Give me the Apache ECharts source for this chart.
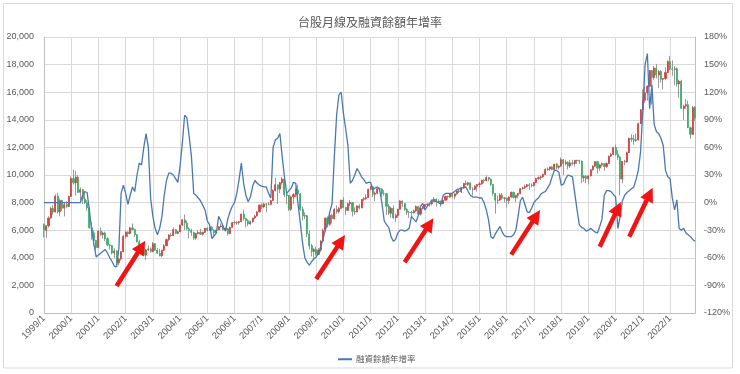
<!DOCTYPE html>
<html><head><meta charset="utf-8">
<script src="https://cdn.jsdelivr.net/npm/echarts@6/dist/echarts.min.js"></script>
<style>html,body{margin:0;padding:0;background:#fff}#c{width:740px;height:374px}</style>
</head><body><div id="c"></div>
<script>
const categories = [
'1999/1','1999/2','1999/3','1999/4','1999/5','1999/6','1999/7','1999/8','1999/9','1999/10','1999/11','1999/12',
'2000/1','2000/2','2000/3','2000/4','2000/5','2000/6','2000/7','2000/8','2000/9','2000/10','2000/11','2000/12',
'2001/1','2001/2','2001/3','2001/4','2001/5','2001/6','2001/7','2001/8','2001/9','2001/10','2001/11','2001/12',
'2002/1','2002/2','2002/3','2002/4','2002/5','2002/6','2002/7','2002/8','2002/9','2002/10','2002/11','2002/12',
'2003/1','2003/2','2003/3','2003/4','2003/5','2003/6','2003/7','2003/8','2003/9','2003/10','2003/11','2003/12',
'2004/1','2004/2','2004/3','2004/4','2004/5','2004/6','2004/7','2004/8','2004/9','2004/10','2004/11','2004/12',
'2005/1','2005/2','2005/3','2005/4','2005/5','2005/6','2005/7','2005/8','2005/9','2005/10','2005/11','2005/12',
'2006/1','2006/2','2006/3','2006/4','2006/5','2006/6','2006/7','2006/8','2006/9','2006/10','2006/11','2006/12',
'2007/1','2007/2','2007/3','2007/4','2007/5','2007/6','2007/7','2007/8','2007/9','2007/10','2007/11','2007/12',
'2008/1','2008/2','2008/3','2008/4','2008/5','2008/6','2008/7','2008/8','2008/9','2008/10','2008/11','2008/12',
'2009/1','2009/2','2009/3','2009/4','2009/5','2009/6','2009/7','2009/8','2009/9','2009/10','2009/11','2009/12',
'2010/1','2010/2','2010/3','2010/4','2010/5','2010/6','2010/7','2010/8','2010/9','2010/10','2010/11','2010/12',
'2011/1','2011/2','2011/3','2011/4','2011/5','2011/6','2011/7','2011/8','2011/9','2011/10','2011/11','2011/12',
'2012/1','2012/2','2012/3','2012/4','2012/5','2012/6','2012/7','2012/8','2012/9','2012/10','2012/11','2012/12',
'2013/1','2013/2','2013/3','2013/4','2013/5','2013/6','2013/7','2013/8','2013/9','2013/10','2013/11','2013/12',
'2014/1','2014/2','2014/3','2014/4','2014/5','2014/6','2014/7','2014/8','2014/9','2014/10','2014/11','2014/12',
'2015/1','2015/2','2015/3','2015/4','2015/5','2015/6','2015/7','2015/8','2015/9','2015/10','2015/11','2015/12',
'2016/1','2016/2','2016/3','2016/4','2016/5','2016/6','2016/7','2016/8','2016/9','2016/10','2016/11','2016/12',
'2017/1','2017/2','2017/3','2017/4','2017/5','2017/6','2017/7','2017/8','2017/9','2017/10','2017/11','2017/12',
'2018/1','2018/2','2018/3','2018/4','2018/5','2018/6','2018/7','2018/8','2018/9','2018/10','2018/11','2018/12',
'2019/1','2019/2','2019/3','2019/4','2019/5','2019/6','2019/7','2019/8','2019/9','2019/10','2019/11','2019/12',
'2020/1','2020/2','2020/3','2020/4','2020/5','2020/6','2020/7','2020/8','2020/9','2020/10','2020/11','2020/12',
'2021/1','2021/2','2021/3','2021/4','2021/5','2021/6','2021/7','2021/8','2021/9','2021/10','2021/11','2021/12',
'2022/1','2022/2','2022/3','2022/4','2022/5','2022/6','2022/7','2022/8','2022/9','2022/10','2022/11','2022/12'
];

// 台股月線 (TAIEX monthly) open / close / high / low
const openValues = [
6418,5999,6318,6881,7581,7317,8467,7326,8157,7598,7855,7721,
8448,9744,9435,9854,8744,8939,8265,7985,7616,6185,5805,5256,
4739,5936,5674,5797,5382,4935,4883,4352,4500,3636,3904,4441,
5551,5872,5759,6167,6043,5675,5153,4941,4764,4191,4579,4646,
4452,5027,4556,4321,4148,4555,4872,5318,5650,5611,6045,5771,
5890,6375,6750,6522,6117,5977,5840,5420,5765,5845,5706,5844,
6140,5994,6207,6006,5819,6012,6241,6311,6033,6118,5764,6204,
6548,6532,6561,6614,7171,6847,6704,6454,6609,6884,7021,7323,
7823,7699,7901,7884,7875,8145,8884,9288,8982,9438,9711,8586,
8506,7521,8413,8572,8920,8619,7523,7024,7046,5720,4870,4460,
4591,4248,4557,5210,5993,6890,6432,7078,6826,7509,7340,7582,
8188,7640,7436,7920,8004,7374,7329,7761,7616,8238,8287,8372,
8973,9145,8600,8683,9007,8988,8653,8644,7741,7225,7588,6904,
7072,7517,8121,7933,7501,7301,7296,7270,7397,7715,7166,7580,
7699,7850,7897,7918,8093,8254,8062,8107,7915,8173,8450,8406,
8611,8462,8639,8849,8791,9075,9393,9315,9436,8966,8974,9187,
9307,9361,9622,9586,9820,9701,9323,8665,8175,8181,8554,8320,
8338,8145,8411,8744,8377,8536,8667,9007,9068,9166,9290,9240,
9254,9448,9750,9812,9872,10041,10395,10427,10586,10384,10794,10560,
10643,11104,10815,10919,10658,10875,10837,11057,11064,11006,9802,9888,
9727,9932,10389,10641,10968,10499,10731,10823,10619,10830,11358,11490,
11997,11495,11292,9708,10992,10943,11621,12665,12592,12516,12546,13723,
14733,15410,15954,16431,17567,17068,17755,17247,17491,16935,16987,17428,
18219,17674,17652,17693,16592,16807,14826,15000,15095,13425,12950,14880
];
const closeValues = [
5999,6318,6881,7581,7317,8467,7326,8157,7598,7855,7721,8448,
9744,9435,9854,8744,8939,8265,7985,7616,6185,5805,5256,4739,
5936,5674,5797,5382,4935,4883,4352,4500,3636,3904,4441,5551,
5872,5759,6167,6043,5675,5153,4941,4764,4191,4579,4646,4452,
5027,4556,4321,4148,4555,4872,5318,5650,5611,6045,5771,5890,
6375,6750,6522,6117,5977,5840,5420,5765,5845,5706,5844,6140,
5994,6207,6006,5819,6012,6241,6311,6033,6118,5764,6204,6548,
6532,6561,6614,7171,6847,6704,6454,6609,6884,7021,7323,7823,
7699,7901,7884,7875,8145,8884,9288,8982,9438,9711,8586,8506,
7521,8413,8572,8920,8619,7523,7024,7046,5720,4870,4460,4591,
4248,4557,5210,5993,6890,6432,7078,6826,7509,7340,7582,8188,
7640,7436,7920,8004,7374,7329,7761,7616,8238,8287,8372,8973,
9145,8600,8683,9007,8988,8653,8644,7741,7225,7588,6904,7072,
7517,8121,7933,7501,7301,7296,7270,7397,7715,7166,7580,7699,
7850,7897,7918,8093,8254,8062,8107,7915,8173,8450,8406,8611,
8462,8639,8849,8791,9075,9393,9315,9436,8966,8974,9187,9307,
9361,9622,9586,9820,9701,9323,8665,8175,8181,8554,8320,8338,
8145,8411,8744,8377,8536,8667,9007,9068,9166,9290,9240,9254,
9448,9750,9812,9872,10041,10395,10427,10586,10384,10794,10560,10643,
11104,10815,10919,10658,10875,10837,11057,11064,11006,9802,9888,9727,
9932,10389,10641,10968,10499,10731,10823,10619,10830,11358,11490,11997,
11495,11292,9708,10992,10943,11621,12665,12592,12516,12546,13723,14733,
15410,15954,16431,17567,17068,17755,17247,17491,16935,16987,17428,18219,
17674,17652,17693,16592,16807,14826,15000,15095,13425,12950,14880,14138
];
const highValues = [
6480,6350,7000,7700,7800,8600,8710,8300,8200,8000,8100,8500,
9900,10393,10300,10000,9100,9000,8800,8200,7700,6600,6000,5300,
6000,6200,5900,5900,5500,5000,4900,4700,4550,4000,4500,5650,
5960,5900,6250,6484,6100,5700,5300,5000,4850,4650,4900,4750,
5140,5050,4700,4650,4600,5000,5400,5700,5800,6200,6100,5950,
6400,6800,7135,6700,6200,6100,5900,5800,6000,6100,5900,6150,
6200,6250,6300,6050,6050,6300,6480,6350,6200,6150,6250,6600,
6700,6650,6650,7200,7500,6900,6800,6700,6900,7100,7400,7850,
7950,8000,7950,8050,8200,8950,9800,9300,9500,9860,9750,8800,
8550,8500,8700,9100,9300,8700,7700,7300,7100,6000,5000,4700,
4800,4700,5300,6100,6900,7000,7100,7200,7600,7800,7700,8200,
8400,7700,8000,8200,8050,7650,7800,7900,8250,8400,8600,9000,
9200,9220,8800,9050,9100,9050,8900,8700,7900,7700,7800,7200,
7550,8170,8150,7950,7600,7400,7400,7500,7800,7760,7600,7750,
7900,7950,7950,8100,8400,8300,8250,8150,8250,8500,8500,8650,
8700,8650,8900,8950,9100,9400,9600,9500,9450,9100,9250,9350,
9500,9650,9700,9970,9850,9750,9350,8700,8500,8700,8700,8400,
8350,8450,8800,8800,8550,8700,9050,9150,9300,9350,9400,9400,
9500,9800,9900,9950,10100,10500,10550,10600,10650,10800,10880,10700,
11270,11150,11100,11000,11100,11100,11100,11100,11100,11050,10000,10000,
10000,10400,10700,11000,11000,10800,10900,10850,10900,11400,11600,12000,
12200,11800,11400,11000,11100,11700,12700,12950,12900,13000,13800,14760,
16200,16400,16500,17600,17600,17900,18034,17600,17600,17000,17800,18300,
18619,18300,17900,17800,16900,16900,15100,15500,15400,13500,15000,15000
];
const lowValues = [
5474,5422,6200,6800,7100,7300,7200,7000,7400,7000,7600,7700,
8400,9300,8500,8700,8100,7900,7900,7400,6100,5300,4900,4555,
4700,5600,5400,5200,4850,4600,4250,4000,3411,3450,3800,4400,
5400,5500,5700,6000,5500,5100,4800,4600,4150,3850,4500,4400,
4400,4500,4300,4100,4044,4500,4850,5200,5500,5600,5700,5700,
5880,6300,6020,6000,5400,5600,5300,5300,5700,5650,5600,5800,
5900,5950,5950,5600,5800,6000,6200,6000,6000,5600,5700,6200,
6400,6400,6400,6600,6700,6200,6300,6400,6550,6800,7000,7300,
7550,7600,7300,7800,7800,8100,8800,7900,8700,9300,8400,7900,
7400,7400,7900,8400,8500,7400,6700,6800,5500,4600,4100,4000,
4150,4200,4400,5200,5900,6200,6300,6500,6800,7200,7200,7550,
7600,7100,7400,7750,7000,7100,7300,7500,7600,8100,8200,8350,
8900,8400,8100,8600,8800,8400,8500,7100,7100,6900,6800,6600,
6900,7500,7700,7400,7100,6900,6950,7200,7300,7100,7050,7500,
7650,7750,7700,7800,8050,7700,7950,7700,7900,8150,8200,8350,
8350,8250,8550,8700,8700,9000,9250,9200,8950,8500,8900,8800,
9100,9300,9400,9550,9550,9200,8500,7200,7900,8100,8200,8000,
7627,7900,8350,8300,8050,8300,8600,8950,9000,9100,8900,9100,
9150,9400,9650,9650,9800,10000,10300,10300,10350,10350,10400,10400,
10600,10000,10700,10400,10500,10700,10600,10800,10800,9400,9500,9400,
9319,9900,10300,10600,10100,10300,10600,10300,10500,10800,11300,11450,
11400,11100,8523,9400,10700,10900,11600,12400,12200,12400,12500,13700,
14700,15200,15400,16400,15100,16900,17000,16300,16700,16200,16900,17400,
17600,17200,16500,16400,15600,14800,14000,14800,13400,12629,12900,13900
];

// 融資餘額年增率 (%)
const marginGrowth = [
0,0,0,0,0,0,0,0,0,0,0,0,
0,0,0,0,0,8,12,11,-8,-30,-45,-59,
-57,-55,-53,-51,-55,-60,-64,-69,-70,-50,10,19,
10,-2,8,17,12,30,43,41,60,75,60,5,
-15,-28,-35,-28,-15,8,24,32,32,30,26,22,
40,65,95,92,72,50,10,8,5,2,-3,-8,
-20,-24,-39,-36,-33,-15,-20,-26,-31,-18,-10,-4,
0,10,25,43,21,8,1,6,18,24,21,19,
18,17,17,10,5,60,68,70,75,50,28,10,
13,16,22,21,-2,-22,-44,-60,-65,-68,-64,-61,
-59,-55,-48,-40,-30,-22,-10,-1,50,95,117,120,
97,80,62,21,24,30,37,33,28,25,21,22,
22,14,16,17,14,-1,-20,-24,-27,-37,-42,-40,
-33,-30,-30,-31,-30,-28,-15,-18,-21,-14,-4,-1,
-8,-4,-1,3,2,1,0,-2,8,10,10,10,
10,12,14,15,16,16,17,12,8,6,6,6,
5,5,0,-8,-19,-37,-39,-34,-30,-26,-32,-36,
-37,-37,-37,-35,-30,-15,2,6,-2,-10,-11,-6,
0,3,5,9,11,12,16,20,28,35,35,33,
19,20,26,30,29,28,10,-8,-24,-27,-28,-31,
-30,-28,-30,-32,-33,-26,-18,8,13,13,12,9,
6,-28,-15,2,8,11,13,15,17,25,35,55,
100,150,162,102,128,85,77,75,70,62,35,28,
26,5,-8,3,-28,-30,-28,-33,-35,-37,-40,-42
];

// annotation arrows: [fromCategory, fromIndexValue, toCategory, toIndexValue]
const arrows = [
  ['2001/9', 1960, '2002/8', 4800],
  ['2009/1', 2470, '2009/12', 5220],
  ['2012/4', 3680, '2013/3', 6450],
  ['2016/3', 4230, '2017/2', 7030],
  ['2019/6', 4800, '2020/2', 7590],
  ['2020/7', 5530, '2021/4', 8620]
];

const leftTicks = {min: 0, max: 20000, interval: 2000};
const rightTicks = {min: -120, max: 180, interval: 30};
const titleText = '台股月線及融資餘額年增率';
const lineName = '融資餘額年增率';

const wickData = categories.map((c, i) => [openValues[i], closeValues[i], lowValues[i], highValues[i]]);
const bodyData = categories.map((c, i) => [openValues[i], closeValues[i],
  Math.min(openValues[i], closeValues[i]), Math.max(openValues[i], closeValues[i])]);

const chart = echarts.init(document.getElementById('c'), null, {renderer: 'canvas'});
const numFont = 'Liberation Sans, Arial, sans-serif';
const cjkFont = 'Noto Sans CJK TC, sans-serif';
chart.setOption({
  animation: false,
  backgroundColor: '#ffffff',
  title: {
    text: titleText, left: 'center', top: 11,
    textStyle: {fontFamily: cjkFont, fontSize: 12, fontWeight: 'normal', color: '#595959'}
  },
  legend: {
    data: [{name: lineName, icon: 'rect'}],
    left: 333, top: 350, itemWidth: 14, itemHeight: 2, itemGap: 4,
    textStyle: {fontFamily: cjkFont, fontSize: 8.5, color: '#595959', padding: [0,0,0,-1]}
  },
  graphic: [{
    type: 'rect', silent: true, z: -10,
    shape: {x: 3.5, y: 3.5, width: 729, height: 364.5},
    style: {fill: null, stroke: '#d9d9d9', lineWidth: 1}
  }],
  grid: {left: 44, right: 45, top: 37, bottom: 61, containLabel: false},
  xAxis: {
    type: 'category', data: categories, boundaryGap: false,
    axisLine: {show: true, lineStyle: {color: '#bfbfbf'}},
    axisTick: {show: false, interval: 11},
    axisLabel: {interval: 11, rotate: 45, margin: 4, fontFamily: numFont, fontSize: 9.5, color: '#595959'},
    splitLine: {show: true, interval: 11, lineStyle: {color: '#d9d9d9', width: 1}}
  },
  yAxis: [{
    type: 'value', min: leftTicks.min, max: leftTicks.max, interval: leftTicks.interval,
    axisLine: {show: true, lineStyle: {color: '#bfbfbf'}},
    axisTick: {show: false},
    axisLabel: {margin: 10, fontFamily: numFont, fontSize: 9, color: '#595959',
      formatter: v => v.toLocaleString('en-US')},
    splitLine: {show: true, lineStyle: {color: '#d9d9d9', width: 1}}
  }, {
    type: 'value', min: rightTicks.min, max: rightTicks.max, interval: rightTicks.interval, position: 'right',
    axisLine: {show: true, lineStyle: {color: '#bfbfbf'}},
    axisTick: {show: false},
    axisLabel: {margin: 9, fontFamily: numFont, fontSize: 9, color: '#595959', formatter: v => v + '%'},
    splitLine: {show: false}
  }],
  series: [{
    name: 'wick', type: 'candlestick', data: wickData, yAxisIndex: 0, barWidth: 1, silent: true,
    itemStyle: {color: '#9a9a9a', color0: '#9a9a9a', borderColor: '#9a9a9a', borderColor0: '#9a9a9a', borderWidth: 1}
  }, {
    name: 'body', type: 'candlestick', data: bodyData, yAxisIndex: 0, barWidth: 1.6, silent: true,
    itemStyle: {color: '#d9413f', color0: '#3fae6c', borderColor: '#d9413f', borderColor0: '#3fae6c', borderWidth: 0.8}
  }, {
    name: lineName, type: 'line', data: marginGrowth, yAxisIndex: 1, symbol: 'none', smooth: false,
    lineStyle: {color: '#4a78b0', width: 1.3}, itemStyle: {color: '#4a78b0'}, z: 3
  }, {
    name: 'arrows', type: 'line', data: [], yAxisIndex: 0, z: 5, silent: true,
    markLine: {
      silent: true, symbol: ['none', 'triangle'], symbolSize: 14, symbolOffset: 0,
      label: {show: false},
      lineStyle: {color: '#f01414', width: 4.5, type: 'solid', cap: 'butt'},
      itemStyle: {color: '#f01414'},
      emphasis: {disabled: true},
      data: arrows.map(a => [{coord: [a[0], a[1]]}, {coord: [a[2], a[3]]}])
    }
  }]
});
</script></body></html>
